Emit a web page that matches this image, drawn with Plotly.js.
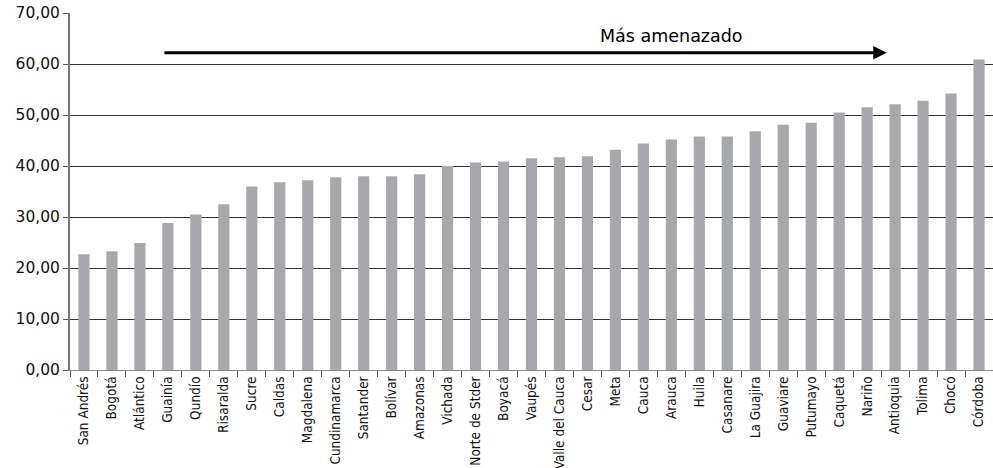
<!DOCTYPE html>
<html>
<head>
<meta charset="utf-8">
<script src="https://cdn.plot.ly/plotly-3.0.1.min.js"></script>
<style>
  body { margin: 0; background: #fff; }
  #chart { width: 993px; height: 468px; }
</style>
</head>
<body>
<div id="chart"></div>
<script>
var departamentos = ['San Andrés', 'Bogotá', 'Atlántico', 'Guainía', 'Qundío', 'Risaralda', 'Sucre',
    'Caldas', 'Magdalena', 'Cundinamarca', 'Santander', 'Bolívar', 'Amazonas', 'Vichada',
    'Norte de Stder', 'Boyacá', 'Vaupés', 'Valle del Cauca', 'Cesar', 'Meta', 'Cauca', 'Arauca',
    'Huila', 'Casanare', 'La Guajira', 'Guaviare', 'Putumayo', 'Caquetá', 'Nariño', 'Antioquia',
    'Tolima', 'Chocó', 'Córdoba'];
var valores = [22.7, 23.3, 24.9, 28.8, 30.5, 32.5, 36.0,
    36.8, 37.2, 37.8, 38.0, 38.0, 38.4, 40.0,
    40.7, 40.9, 41.5, 41.7, 41.9, 43.2, 44.4, 45.2,
    45.8, 45.8, 46.8, 48.1, 48.5, 50.5, 51.5, 52.1,
    52.8, 54.2, 60.9];
var yTicks = [0, 10, 20, 30, 40, 50, 60, 70];
var arrowText = 'Más amenazado';

var barras = {
    x: departamentos,
    y: valores,
    type: 'bar',
    marker: {color: '#a7a8ab'},
    hoverinfo: 'x+y'
};

var layout = {
    width: 993,
    height: 468,
    margin: {l: 70, r: 0, t: 13, b: 98},
    paper_bgcolor: '#fff',
    plot_bgcolor: '#fff',
    separators: ',.',
    bargap: 0.6,
    showlegend: false,
    xaxis: {
        type: 'category',
        tickangle: -90,
        tickfont: {family: '"Liberation Sans Narrow", "DejaVu Sans Condensed", sans-serif', size: 13.5, color: '#111'},
        ticks: 'outside',
        tickson: 'boundaries',
        ticklen: 6,
        tickcolor: '#555',
        showline: true,
        linecolor: '#888',
        linewidth: 1,
        showgrid: false,
        automargin: false
    },
    yaxis: {
        range: [0, 70],
        tickvals: yTicks,
        tickformat: '.2f',
        tickfont: {family: '"DejaVu Sans", Verdana, sans-serif', size: 15.5, color: '#111'},
        ticks: 'outside',
        ticklen: 5,
        tickcolor: '#555',
        showline: true,
        linecolor: '#777',
        linewidth: 2,
        gridcolor: '#333',
        gridwidth: 1,
        zeroline: false,
        automargin: false
    },
    annotations: [
        {
            x: 28.7, y: 62.2, xref: 'x', yref: 'y',
            ax: 2.82, ay: 62.2, axref: 'x', ayref: 'y',
            showarrow: true, arrowhead: 2, arrowsize: 0.9, arrowwidth: 3, arrowcolor: '#000',
            text: ''
        },
        {
            x: 21.0, y: 65.5, xref: 'x', yref: 'y',
            text: arrowText, showarrow: false,
            font: {family: '"DejaVu Sans", Verdana, sans-serif', size: 17.5, color: '#000'}
        }
    ]
};

Plotly.newPlot('chart', [barras], layout, {displayModeBar: false, staticPlot: true});
</script>
</body>
</html>
